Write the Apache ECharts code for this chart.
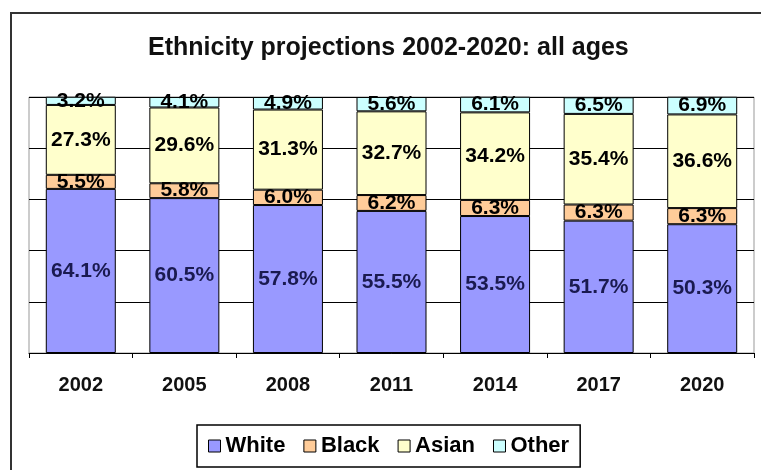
<!DOCTYPE html>
<html>
<head>
<meta charset="utf-8">
<script src="https://cdn.jsdelivr.net/npm/echarts@6/dist/echarts.min.js"></script>
<style>
  html, body { margin: 0; padding: 0; background: #fff; }
  #chart { width: 761px; height: 470px; }
</style>
</head>
<body>
<div id="chart"></div>
<script>
// data (percent of all ages)
var years = ['2002', '2005', '2008', '2011', '2014', '2017', '2020'];
var white = [64.1, 60.5, 57.8, 55.5, 53.5, 51.7, 50.3];
var black = [5.5, 5.8, 6.0, 6.2, 6.3, 6.3, 6.3];
var asian = [27.3, 29.6, 31.3, 32.7, 34.2, 35.4, 36.6];
var other = [3.2, 4.1, 4.9, 5.6, 6.1, 6.5, 6.9];

var font = 'Liberation Sans, Arial, sans-serif';

function makeSeries(name, data, color, labelColor) {
    return {
        name: name,
        type: 'bar',
        stack: 'all',
        barWidth: 70,
        data: data,
        itemStyle: { color: color, borderColor: '#000', borderWidth: 1 },
        label: {
            show: true,
            position: 'inside',
            formatter: function (p) { return p.value.toFixed(1) + '%'; },
            color: labelColor,
            fontFamily: font,
            fontWeight: 'bold',
            fontSize: 21
        }
    };
}

var myChart = echarts.init(document.getElementById('chart'));
var option = {
    backgroundColor: '#fff',
    animation: false,
    title: {
        text: 'Ethnicity projections 2002-2020: all ages',
        left: 143,
        top: 31,
        textStyle: { fontFamily: font, fontSize: 25, fontWeight: 'bold', color: '#111' }
    },
    graphic: [{
        type: 'rect',
        shape: { x: 11, y: 13, width: 770, height: 480 },
        style: { fill: 'none', stroke: '#333', lineWidth: 2 },
        silent: true
    }],
    grid: {
        left: 29, right: 7, top: 97, bottom: 117,
        show: true, borderColor: '#999', borderWidth: 1, backgroundColor: '#fff'
    },
    legend: {
        data: ['White', 'Black', 'Asian', 'Other'],
        left: 197,
        top: 425,
        icon: 'rect',
        itemWidth: 12,
        itemHeight: 12,
        itemGap: 18,
        padding: [10, 11],
        borderColor: '#000',
        borderWidth: 1.5,
        itemStyle: { borderColor: '#000', borderWidth: 1 },
        textStyle: { fontFamily: font, fontWeight: 'bold', fontSize: 22, color: '#000' }
    },
    xAxis: {
        type: 'category',
        data: years,
        axisLine: { lineStyle: { color: '#000', width: 1 } },
        axisTick: { show: true, length: 5, lineStyle: { color: '#000' } },
        axisLabel: { margin: 22, fontFamily: font, fontWeight: 'bold', fontSize: 20, color: '#111' }
    },
    yAxis: {
        type: 'value',
        min: 0,
        max: 100,
        interval: 20,
        axisLabel: { show: false },
        axisLine: { show: false },
        axisTick: { show: false },
        splitLine: { show: true, lineStyle: { color: '#000', width: 1 } }
    },
    series: [
        makeSeries('White', white, '#9999ff', '#1a1a50'),
        makeSeries('Black', black, '#ffcc99', '#000'),
        makeSeries('Asian', asian, '#ffffcc', '#000'),
        makeSeries('Other', other, '#ccffff', '#000')
    ]
};
myChart.setOption(option);
</script>
</body>
</html>
